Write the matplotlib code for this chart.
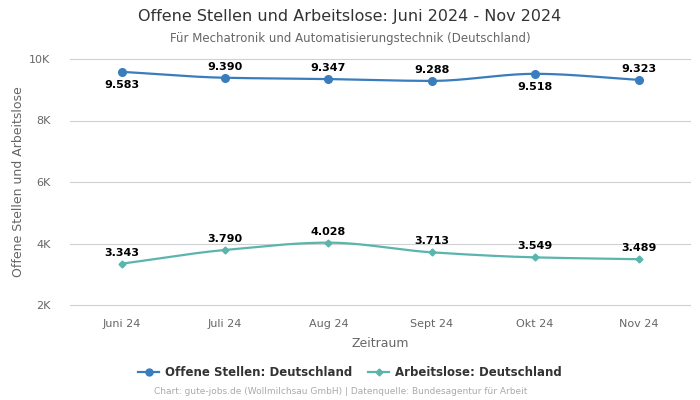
import numpy as np
import matplotlib
matplotlib.use("Agg")
import matplotlib.pyplot as plt
from matplotlib.lines import Line2D

categories = ["Juni 24", "Juli 24", "Aug 24", "Sept 24", "Okt 24", "Nov 24"]
offene = [9583, 9390, 9347, 9288, 9518, 9323]
arbeitslose = [3343, 3790, 4028, 3713, 3549, 3489]
offene_labels = ["9.583", "9.390", "9.347", "9.288", "9.518", "9.323"]
arbeitslose_labels = ["3.343", "3.790", "4.028", "3.713", "3.549", "3.489"]
offene_below = [True, False, False, False, True, False]
yticks = [2000, 4000, 6000, 8000, 10000]
ytick_labels = ["2K", "4K", "6K", "8K", "10K"]

BLUE = "#3a7dbd"
TEAL = "#5ab5ad"


def pchip(x, y, n=200):
    x = np.asarray(x, float)
    y = np.asarray(y, float)
    h = np.diff(x)
    d = np.diff(y) / h
    m = np.zeros_like(y)
    for i in range(1, len(y) - 1):
        if d[i - 1] * d[i] <= 0:
            m[i] = 0
        else:
            w1 = 2 * h[i] + h[i - 1]
            w2 = h[i] + 2 * h[i - 1]
            m[i] = (w1 + w2) / (w1 / d[i - 1] + w2 / d[i])
    m[0] = d[0]
    m[-1] = d[-1]
    xs, ys = [], []
    for i in range(len(x) - 1):
        t = np.linspace(0, 1, n)
        h00 = 2 * t**3 - 3 * t**2 + 1
        h10 = t**3 - 2 * t**2 + t
        h01 = -2 * t**3 + 3 * t**2
        h11 = t**3 - t**2
        xs.append(x[i] + t * h[i])
        ys.append(h00 * y[i] + h10 * h[i] * m[i] + h01 * y[i + 1] + h11 * h[i] * m[i + 1])
    return np.concatenate(xs), np.concatenate(ys)


fig = plt.figure(figsize=(7, 4), dpi=100)
ax = fig.add_axes([0.1, 0.2375, 0.886, 0.615])

x = np.arange(len(categories))
for vals, col, mk, ms in [(offene, BLUE, "o", 5.5), (arbeitslose, TEAL, "D", 3.5)]:
    sx, sy = pchip(x, vals)
    ax.plot(sx, sy, color=col, lw=1.6, zorder=3)
    ax.plot(x, vals, ls="none", marker=mk, color=col, ms=ms, zorder=4)

for i, v in enumerate(offene):
    off = -9.5 if offene_below[i] else 8
    ax.annotate(offene_labels[i], (i, v), xytext=(0, off), textcoords="offset points",
                ha="center", va="center", fontsize=8, fontweight="bold", color="black")
for i, v in enumerate(arbeitslose):
    ax.annotate(arbeitslose_labels[i], (i, v), xytext=(0, 8), textcoords="offset points",
                ha="center", va="center", fontsize=8, fontweight="bold", color="black")

ax.set_xlim(-0.5, len(categories) - 0.5)
ax.set_ylim(2000, 10000)
ax.set_yticks(yticks)
ax.set_yticklabels(ytick_labels)
ax.set_xticks(x)
ax.set_xticklabels(categories)
for yt in yticks:
    ax.axhline(yt, color="#d0d0d0", lw=0.8, zorder=0, clip_on=False)
for s in ax.spines.values():
    s.set_visible(False)
ax.tick_params(axis="both", length=0, labelsize=8, colors="#666666")
ax.tick_params(axis="x", pad=10)
ax.tick_params(axis="y", pad=14)
ax.set_xlabel("Zeitraum", fontsize=9, color="#666666", labelpad=6)
ax.set_ylabel("Offene Stellen und Arbeitslose", fontsize=9, color="#666666", labelpad=3)

fig.text(0.5, 0.958, "Offene Stellen und Arbeitslose: Juni 2024 - Nov 2024",
         ha="center", va="center", fontsize=11.5, color="#333333")
fig.text(0.5, 0.903, "Für Mechatronik und Automatisierungstechnik (Deutschland)",
         ha="center", va="center", fontsize=8.5, color="#666666")

handles = [
    Line2D([], [], color=BLUE, marker="o", ms=5, lw=1.6),
    Line2D([], [], color=TEAL, marker="D", ms=3.5, lw=1.6),
]
fig.legend(handles, ["Offene Stellen: Deutschland", "Arbeitslose: Deutschland"],
           loc="center", bbox_to_anchor=(0.5, 0.068), ncol=2, frameon=False,
           prop={"size": 8.5, "weight": "bold"}, labelcolor="#333333",
           handlelength=1.8, columnspacing=1.3, handletextpad=0.5)
fig.text(0.486, 0.02, "Chart: gute-jobs.de (Wollmilchsau GmbH) | Datenquelle: Bundesagentur für Arbeit",
         ha="center", va="center", fontsize=6.5, color="#aaaaaa")

fig.savefig("out.png", dpi=100)
